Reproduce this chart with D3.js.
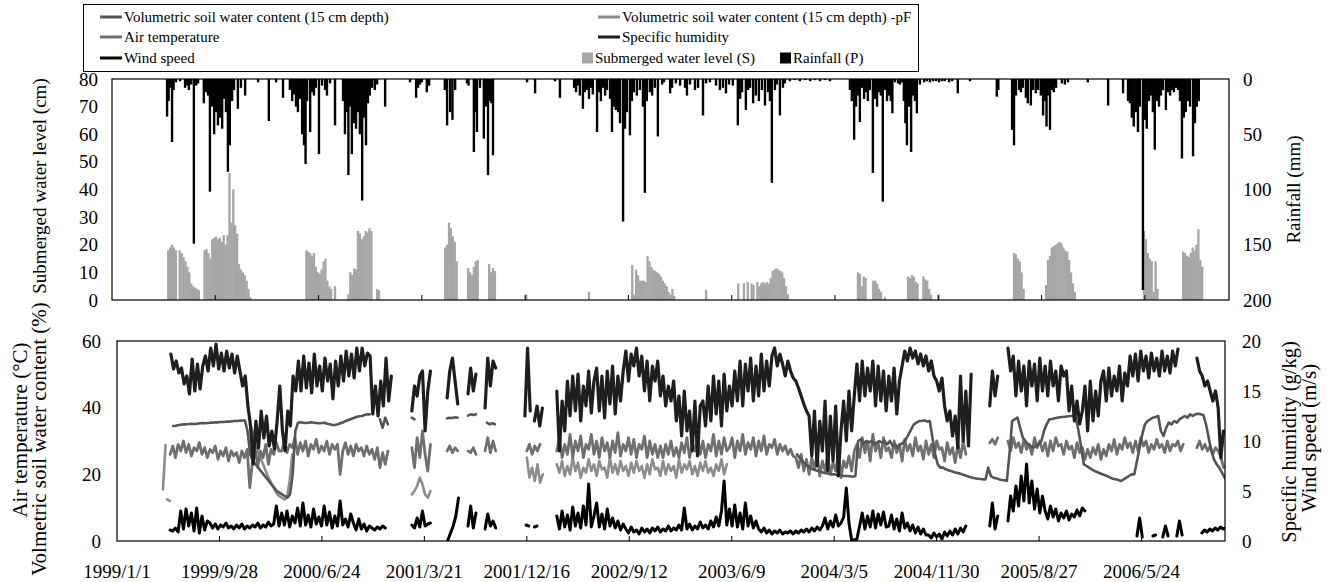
<!DOCTYPE html>
<html>
<head>
<meta charset="utf-8">
<script src="https://cdn.jsdelivr.net/npm/d3@7"></script>
<style>
  body { margin: 0; background: #fff; }
  svg text { font-family: "Liberation Serif", "Times New Roman", "DejaVu Serif", serif; fill: #000; }
</style>
</head>
<body>
<svg id="chart" width="1331" height="582" font-family="Liberation Serif, Times New Roman, serif"></svg>
<script>
// ---------------------------------------------------------------
// Data. Days are counted from 1999-01-01. Line series are stored as
// gap-separated segments sampled every 7 days; submerged water level
// segments are sampled every 5 days.
// ---------------------------------------------------------------
const LINE_STEP = 7;
const SUB_STEP = 5;
const LAST_DAY = 2920;

const dateTicks = ["1999/1/1", "1999/9/28", "2000/6/24", "2001/3/21", "2001/12/16",
  "2002/9/12", "2003/6/9", "2004/3/5", "2004/11/30", "2005/8/27", "2006/5/24"];
const subTicks = [0, 10, 20, 30, 40, 50, 60, 70, 80];
const rainTicks = [0, 50, 100, 150, 200];
const leftTicks = [0, 20, 40, 60];
const rightTicks = [0, 5, 10, 15, 20];

// Rainfall (P), mm: [day, mm]
const rainfall = [
  [144,34],[148,20],[152,8],[157,57],[161,10],[167,3],[178,2],[191,8],[196,6],[201,10],[207,5],[214,149],[220,6],[225,4],
  [240,22],[246,12],[251,15],[256,102],[261,25],[267,50],[272,30],[277,42],[282,35],[288,45],[293,18],[298,30],[303,84],[308,60],[314,20],[319,10],[329,27],[337,8],[348,15],[382,3],[410,38],[429,3],[447,17],
  [465,10],[471,20],[476,14],[481,25],[486,30],[491,18],[497,50],[502,60],[506,77],[510,20],[518,48],[523,12],[528,15],[533,8],[541,68],[549,6],[557,10],[562,15],[570,4],[583,42],
  [604,20],[609,50],[614,30],[618,87],[622,25],[627,68],[633,40],[638,45],[643,30],[648,50],[654,110],[659,35],[664,60],[669,22],[674,15],[680,8],[687,10],[693,5],[714,25],
  [779,3],[795,17],[800,8],[805,5],[810,3],[823,12],[829,6],[870,10],[876,42],[884,30],[890,37],[897,10],
  [928,4],[932,6],[946,66],[951,30],[954,48],[962,8],[972,54],[978,25],[983,87],[988,20],[992,22],[996,69],
  [1085,3],[1106,13],[1158,2],[1171,17],
  [1208,8],[1213,12],[1218,6],[1223,15],[1231,27],[1236,12],[1242,10],[1247,18],[1252,8],[1257,14],[1268,48],[1273,12],[1278,20],[1283,8],[1289,15],[1294,10],[1302,18],[1307,48],[1312,25],[1317,28],[1323,30],[1328,40],[1336,129],[1341,45],[1346,30],[1354,51],[1359,20],[1364,12],[1372,15],[1380,10],[1388,25],[1393,103],[1398,20],[1406,12],[1412,15],[1419,8],[1427,52],[1438,5],[1443,3],[1459,13],[1464,8],[1474,4],[1485,6],[1498,8],[1503,15],[1511,5],[1524,10],[1532,8],[1545,33],[1553,4],[1563,3],
  [1579,6],[1589,10],[1597,8],[1605,13],[1613,5],[1623,6],[1636,42],[1642,18],[1647,12],[1657,28],[1663,10],[1668,8],[1676,22],[1683,15],[1691,20],[1699,10],[1707,24],[1715,12],[1720,20],[1725,94],[1733,10],[1738,5],[1746,33],[1754,8],[1759,4],[1772,2],[1785,1],[1798,2],[1812,1],[1825,2],[1838,1],[1851,2],[1864,1],[1877,2],
  [1929,10],[1934,20],[1940,55],[1945,25],[1950,15],[1955,39],[1961,8],[1966,18],[1971,12],[1976,20],[1981,10],[1989,85],[1995,18],[2000,25],[2005,12],[2010,15],[2015,111],[2021,10],[2026,20],[2031,15],[2036,20],[2040,31],
  [2047,3],[2055,4],[2060,5],[2065,3],[2070,20],[2074,40],[2078,60],[2083,25],[2089,66],[2094,15],[2099,20],[2104,31],[2112,5],[2123,3],[2130,2],[2138,3],[2146,2],[2154,2],[2162,3],[2170,2],[2177,2],[2188,3],[2196,2],[2211,13],[2243,2],
  [2313,16],[2317,10],[2353,46],[2358,60],[2363,15],[2371,10],[2376,12],[2381,8],[2389,17],[2394,22],[2402,24],[2408,10],[2415,13],[2421,10],[2428,15],[2434,33],[2439,20],[2443,43],[2447,15],[2452,46],[2457,10],[2462,12],[2468,8],[2483,4],[2491,5],[2499,3],[2551,3],[2604,24],
  [2643,13],[2656,20],[2661,22],[2666,35],[2671,43],[2677,30],[2682,48],[2687,25],[2695,191],[2700,37],[2705,45],[2711,20],[2716,15],[2721,30],[2726,64],[2732,20],[2737,25],[2742,15],[2747,10],[2755,28],[2760,12],[2766,15],[2771,10],[2776,12],[2781,8],[2787,10],[2792,20],[2797,72],[2802,35],[2807,30],[2813,20],[2818,25],[2826,70],[2831,40],[2836,25],[2841,20]
];

// Submerged water level (S), cm
const submergedLevel = [
  {start: 144, values: [18,19,20,19,18,0,18,17,15.5,14,12,10,6,5,4.5,4,3.5,0,0,18,18.5,17,15,22,22.5,23,22,22.5,21,23.5,20,23.5,46,28,40,27,24,13,11,10,9,7,4,1]},
  {start: 505, values: [18,17.5,17,16,17,12,10,9.5,11,14,15,7,5,4,0,5,0,0,0,0,0,0,2,10,9,11.5,11,25,24,22,23,25,24.5,26,25,0,0,4,3.5]},
  {start: 868, values: [19,20,28,26,23,21,14,0,0,0,0,0,11.5,10,9,12,14,14.5,0,0,0,0,0,13,10,11.5,10.5]},
  {start: 1080, values: [2]},
  {start: 1244, values: [3]},
  {start: 1357, values: [12.7,2,11,9,7,7,7,6.5,16,14,12,11,10.5,10,9.5,8.5,7,6,5,3,2,4,1.5]},
  {start: 1550, values: [3.6]},
  {start: 1634, values: [6,0,0,6,0,6.5,0,6,5.5,0,6.5,5,6,6.5,6,6.5,6,8,10.5,11,11.5,11,10.5,10,8,5,2]},
  {start: 1947, values: [10,9.5,5,8.5,8,0,0,0,7,7,6,4,3,0,1]},
  {start: 2078, values: [8.5,8,9,8.5,6.6,6,0,0,8.5,7.5,7,4,2,0,0,0,2]},
  {start: 2355, values: [17,16.5,15,14,10,4]},
  {start: 2439, values: [5.4,14.5,16,19,19.5,20,20.5,21,20.5,19,18,17.5,14.5,10,6,3]},
  {start: 2695, values: [25,22,17,15,14,3,14,4]},
  {start: 2797, values: [17.5,17,16,15.5,17,19,18,20,25.6,14.5,12]}
];

// Volumetric soil water content (15 cm depth), %
const soilWater = [
  {start: 148, values: [34.5,34.6,34.8,34.9,35,35,35.1,35.2,35.1,35.2,35.3,35.4,35.3,35.4,35.5,35.5,35.6,35.6,35.7,35.7,35.8,35.8,35.9,36,36,36.1,36.1,36.2,
    33,26,24,23,22,21,20,19,18,17,16,15,14.5,14,13.5,13,14,20,
    33,35.5,35.6,35.5,35.4,35.5,35.6,35.5,35.4,35.3,35.4,35.5,35.2,35,34.8,
    34.8,35,35.3,35.6,36,36.3,36.6,36.9,37.2,37.4,37.5,37.8,38,38]},
  {start: 693, values: [36.5,34,37,35]},
  {start: 777, values: [37,36.5]},
  {start: 870, values: [36.8,37,36.9,37.1,37]},
  {start: 925, values: [37.6,38,37.8,38]},
  {start: 975, values: [35.5,35,35.3,35]},
  {start: 1792, values: [26,25,24,23.2,22.5,22,21.5,21.2,21,20.8,20.5,20.3,20.2,20,20,19.8,19.7,19.6,19.5,19.5,19.4,19.3,19.5,
    30,30.5,29,30,29.5,30,29,29.5,30,
    29.5,30,29,30,28.5,29,28,29,
    29.5,30.5,32,33.5,35,35.5,36,36,36.2,35.8,36,
    31,26,23,22,22,21.5,21.2,21,20.7,20.5,20.3,20,19.8,19.5,
    19.2,19,18.8,18.7,18.6,18.5,18.5,22,19.5,19,18.8,18.5,18.3,18.2,18,
    26,36,36.5,37,34,31,30,29,28.5,28,28.5,29,30,33,35,
    36.5,36.6,36.8,37,37.1,37.2,37.3,37.4,37.5,37.5,37,33,28,23,
    22.5,22,21.5,21,20.7,20.3,20,19.7,19.4,19,18.7,18.5,18.3,18,
    18.5,19,19.5,20,20,24,28,32,35,36,36.5,37,37.2,37.5,
    33,31.5,34,35.5,35,36,35.5,36.5,37,37.5,37,38,37.5,38,38.2,38,37.8,
    35,31,27,24.5,23,22,20.5,19,18,17.5]}
];

// Volumetric soil water content (15 cm depth) derived from pF, %
const soilWaterPF = [
  {start: 121, values: [15.5,28.8]},
  {start: 132, values: [12.5,12]},
  {start: 350, values: [35,33,30,27,25,23,21,19,17.5,16,14.5,13.5,13,12.5,13,18,26]},
  {start: 777, values: [14,15,16.5,19,17,14,13,15]},
  {start: 1080, values: [25,19,22,18,23,17.5,20]},
  {start: 1159, values: [23,20.5,24,19.5,22.5,20,25,21,23.5,19,22,20.5,24.5,21,23,19.5,24,21.5,22,19,
    25,20.5,23,20,24,21,22.5,19.5,23.5,20.5,24,21,22.5,19,23,20,24.5,21.5,22,19.5,
    24,20,23,21,22.5,19,24.5,20.5,23,21.5,24,20,22.5,19.5,23.5,21,24,20.5,22,19.5,23,21,24.5,20,23]}
];

// Air temperature, °C
const airTemperature = [
  {start: 140, values: [26,28.5,25,29,27,30,26.5,29,25.5,28,27,29.5,26,28,25,27.5,26.5,28.5,24.5,27,25.5,28,24,27,25.5,26.5,23.5,27,25,27.5,
    16,24,28,22.5,27,25,29,23,27.5,26,29.5,27,
    27,30,26.5,29,28,31,26,29.5,27,30,25.5,29,27.5,30.5,26.5,28.5,27,30,26,29,27.5,29,20,27,29.5,26,28.5,25.5,29,27,28,25.5,28.5,26,27.5,24.5,28,22,26.5,23,27]},
  {start: 777, values: [28,22,31,25,33,26,21,29]},
  {start: 870, values: [27,28.5,26.5,28,27]},
  {start: 925, values: [27,26.5,28,26]},
  {start: 970, values: [27,31,26.5,30,27]},
  {start: 1080, values: [27,29,26,28.5,27,29]},
  {start: 1159, values: [27,31,25,29,26,32,25,30,27,31.5,25,29,27.5,32,26,30,25,31,27,29.5,25,30,26.5,32.5,25.5,29,27,31,26,30.5,
    25,29,27.5,31.5,25,30,26,29,25,28.5,25,29,26,30,25.5,28,25,29.5,26.5,31,25,29,27,31.5,26,30,25,29,27,32,25.5,30,26,31,27,
    28,31,25,30,27,32,26,29.5,27.5,31,25.5,30,27,31.5,26,29,28,30.5,26,29,27,28.5,26,27.5,25.5,
    25,22,26,21,24.5,20,25,21.5,26,19.5,24,21,25.5,20,23.5,21,26,19,24,22,25.5,21,27,
    29,25,31,26.5,30,24,32,27,29.5,25,31,27,
    28,25,30,26.5,29,24,30.5,27,29,25.5,31,27,28.5,24.5,30,26,29,25,30,27.5,28,24,29.5,26,28,23.5,29,25,30,26]},
  {start: 2300, values: [29.5,30.5,29,31]},
  {start: 2348, values: [30,27,31,28,29.5,26.5,30.5,27.5,29,26,31,28,30,27,29.5,25.5,30,27,31,28.5,29,26,30,27.5,28.5,25,29.5,26.5,28,24.5,
    27.5,25,28,26,29,24.5,27.5,25.5,29,27,30.5,26,29,27.5,31,28,29.5,26.5,30,27,31,28.5,30,26.5,29,27.5,30.5,28,29,26.5,30,27,29,28.5,30,27,29]},
  {start: 2846, values: [28,30,27.5,29,27,28.5,26,28,27,25.5,22]}
];

// Specific humidity, g/kg
const specificHumidity = [
  {start: 142, values: [18.7,17.2,18,16.8,17.3,15.7,16.5,14.7,18.2,15,17.7,15.2,17.5,
    18.5,17,19.3,17.5,19.7,17.2,18.8,17,19,17.3,18.7,16.8,18.5,
    17,15.5,16.5,13.5,11.5,7.7,
    12,9.3,13,10.3,12.5,9.5,11,9.2,12,15.5,11,9,13,11.5,16.5,15,
    18,15,18.5,15.3,17.8,14.8,18.7,15.5,17.5,15,18.3,16,17.7,14.2,18,15.5,18.5,16,19,16.5,18.7,16.3,19.3,17,19.3,17.5,18.8,18.5,
    12.7,15.5,12.5,16,13.5,18.3,14,16.5]},
  {start: 777, values: [13,15.5,14.5,16.5,17,11,15,17]},
  {start: 870, values: [14.3,17,18.3,16,13.7]},
  {start: 925, values: [14.7,17.3,15,16.7]},
  {start: 970, values: [13.3,18.3,15.5,18,17.3]},
  {start: 1075, values: [12.5,19.3,13]},
  {start: 1100, values: [12,13.5,11.5,13.3]},
  {start: 1159, values: [15,9,14,11,
    16,12.5,16.5,13,16.7,12,15.5,13.5,17,12.8,16,
    17.3,13,16.5,12.3,17,13.7,17.5,12.7,16.5,14,
    17,19,16,18.7,17.5,19.3,16.5,
    18.5,15,18,14,17.5,16,18,14.5,
    16.5,13.5,15.5,14,16,
    12,14.5,10.5,15,11,13,9,14,8.5,13.5,
    14,11.5,15.5,12,16.5,12.7,16,11.5,16.7,13,15.5,13.5,
    17,14,18,13.5,17.7,15,18.3,14,17.5,14.5,18.7,15,18,15.5,18.5,
    19.3,17.5,18.7,17.7,16.5,18,17,16.3,
    16,15.3,14.5,13.7,13,
    12.5,8.5,13,7.5,12,9,14,7,12.5,8,13.5,6.5,11,
    14,10,15,11,14.5,
    17.7,14,18,14.5,17.3,15,18,13.5,17.5,14,
    17,13,16.5,14,17.3,12.7,16,
    17.5,19,18,19.3,18.3,19,17.7,18.7,17.5,18.5,17,18,16.5,
    16,15,16.3,13.5,12,13,10.5,12.5,9.3,
    16.5,10,15,9.5,16.7]},
  {start: 2300, values: [13.5,17,14.5,16.5]},
  {start: 2348, values: [19.3,17,18.5,14.5,18,15,17.5,13.5,18,15.5,17.7,14,18.3,15,17.5,14.5,18,15.5,17,14,17.5,16.5,
    17,13,15.5,12,14,11.7,13,
    15.5,11,16,12,15,12.5,16,
    17,14,17.3,14.5,16.5,15,17.5,14,16.8,15.5,
    18.5,16.5,18.7,16,19,17,18.5,16.3,18.8,17,18.3,16.5,19,17,18.5,16.8,19,17.5,19.2]},
  {start: 2846, values: [18.3,17,16.5,15.5,16,15,14,15,13.3,8.3,11]}
];

// Wind speed, m/s
const windSpeed = [
  {start: 140, values: [1.1,1.0,1.3,0.9,3.0,1.2,3.2,1.5,2.8,1.0,3.3,0.8,2.5,1.1,2.0,
    1.8,1.3,1.7,1.2,1.6,1.4,1.8,1.3,1.5,1.2,1.6,1.3,1.7,1.2,1.5,1.3,1.6,1.4,1.8,1.3,1.6,1.4,1.9,1.5,1.7,
    3.5,1.5,2.8,1.6,3.0,1.4,2.5,1.8,3.3,1.5,3.8,1.6,2.6,1.4,3.2,1.7,2.4,1.5,3.5,1.6,2.9,1.3,2.5,1.5,4.0,1.6,2.2,1.4,2.7,
    1.8,1.1,2.2,1.2,1.7,1.0,1.5,1.3,1.1,1.4,1.2,1.5,1.3]},
  {start: 777, values: [1.6,1.3,2.3,1.4,3.0,1.5,1.7,1.8]},
  {start: 872, values: [0.1,0.8,1.5,2.5,4.3]},
  {start: 925, values: [1.5,3.5,1.3,2.8]},
  {start: 970, values: [1.2,2.7,1.5,2.0,1.3]},
  {start: 1078, values: [1.6,1.5]},
  {start: 1100, values: [1.4,1.5]},
  {start: 1159, values: [2.5,1.2,3.0,1.4,2.6,1.1,3.4,1.5,2.8,1.3,3.5,1.6,5.7,1.4,2.5,
    3.8,1.4,2.7,1.2,3.2,1.5,2.3,1.3,2.0,1.1,1.7,
    1.2,0.8,1.4,0.9,1.1,0.7,1.3,0.9,1.2,0.8,1.3,1.0,1.4,0.9,1.2,1.0,1.5,1.0,1.3,1.1,1.6,1.1,3.3,1.2,1.7,1.1,1.5,1.2,1.9,1.3,1.6,1.2,2.0,1.4,2.4,1.5,
    3.0,6.0,1.6,3.2,
    1.5,3.6,1.4,2.8,1.2,3.8,1.5,2.5,1.3,2.0,
    1.2,0.9,1.3,0.8,1.1,0.7,1.0,0.8,1.1,0.7,0.9,0.8,1.0,0.7,1.0,0.8,1.1,0.9,1.2,0.9,1.3,1.0,1.4,1.1,
    1.5,2.3,1.2,2.0,1.4,2.6,1.5,1.8,2.4,5.3,1.8,
    0.1,0.1,0.2,
    1.5,2.8,1.2,2.5,1.4,3.0,1.3,2.7,1.6,2.9,1.4,
    1.5,2.6,1.2,2.2,1.0,2.8,1.3,1.8,1.0,1.6,0.8,1.4,0.7,1.2,0.6,
    0.6,0.3,0.8,0.4,0.7,0.2,0.9,0.5,1.0,0.6,1.2,0.7,1.3,0.9,1.5]},
  {start: 2300, values: [1.5,3.8,1.2,2.5]},
  {start: 2348, values: [2.0,4.5,3.0,5.5,3.5,6.5,4.0,7.7,3.8,6.0,3.2,5.2,2.8,4.5,
    3.0,2.2,3.5,2.4,3.2,2.0,2.8,2.3,3.0,2.1,2.7,2.4,3.1,2.5,3.3,3.0]},
  {start: 2688, values: [0.5,2.3,0.4]},
  {start: 2730, values: [0.5,0.6]},
  {start: 2756, values: [0.4,1.5,0.5]},
  {start: 2793, values: [0.5,2.0,0.6]},
  {start: 2859, values: [0.8,1.1,0.9,1.2,1.0,1.3,1.1,1.4,1.2,1.3]}
];

// ---------------------------------------------------------------
// Layout and scales
// ---------------------------------------------------------------
const SERIF = "Liberation Serif, Times New Roman, serif";
const svg = d3.select("#chart");
const origin = new Date(1999, 0, 1);
const dayToDate = d => new Date(1999, 0, 1 + d);
const parseTick = d3.timeParse("%Y/%m/%d");
const tickDates = dateTicks.map(parseTick);

const upper = {left: 112, right: 1229, top: 79, bottom: 300};
const lower = {left: 117, right: 1225, top: 341, bottom: 541};

const xUpper = d3.scaleTime().domain([origin, dayToDate(LAST_DAY)]).range([upper.left, upper.right]);
const xLower = d3.scaleTime().domain([origin, dayToDate(LAST_DAY)]).range([lower.left, lower.right]);

const ySub = d3.scaleLinear().domain([0, 80]).range([upper.bottom, upper.top]);
const yRain = d3.scaleLinear().domain([0, 200]).range([upper.top, upper.bottom]);
const yLeft = d3.scaleLinear().domain([0, 60]).range([lower.bottom, lower.top]);
const yRight = d3.scaleLinear().domain([0, 20]).range([lower.bottom, lower.top]);

const FONT = 19;

function styleAxis(a) {
  a.attr("font-family", SERIF).attr("font-size", FONT);
  a.select(".domain").remove();
  a.selectAll("text").attr("font-size", FONT).attr("font-family", SERIF).attr("fill", "#000");
}

function title(g, x, y, text, size) {
  g.append("text")
    .attr("transform", `translate(${x},${y}) rotate(-90)`)
    .attr("text-anchor", "middle").attr("font-size", size || FONT).attr("font-family", SERIF)
    .text(text);
}

// ---------------------------------------------------------------
// Upper panel: submerged water level and rainfall
// ---------------------------------------------------------------
const gUp = svg.append("g");
gUp.append("clipPath").attr("id", "clipUp").append("rect")
  .attr("x", upper.left).attr("y", upper.top)
  .attr("width", upper.right - upper.left).attr("height", upper.bottom - upper.top);

const subBars = submergedLevel.flatMap(s => s.values.map((v, i) => ({day: s.start + i * SUB_STEP, v})));
gUp.append("g").attr("clip-path", "url(#clipUp)")
  .selectAll("rect").data(subBars).join("rect")
  .attr("x", d => xUpper(dayToDate(d.day)))
  .attr("width", d => xUpper(dayToDate(d.day + SUB_STEP)) - xUpper(dayToDate(d.day)) + 0.4)
  .attr("y", d => ySub(d.v))
  .attr("height", d => ySub(0) - ySub(d.v))
  .attr("fill", "#a6a6a6");

gUp.append("g").attr("clip-path", "url(#clipUp)")
  .selectAll("rect").data(rainfall).join("rect")
  .attr("x", d => xUpper(dayToDate(d[0])) - 1.2)
  .attr("width", 2.4)
  .attr("y", yRain(0))
  .attr("height", d => yRain(d[1]) - yRain(0))
  .attr("fill", "#000");

gUp.append("rect")
  .attr("x", upper.left).attr("y", upper.top)
  .attr("width", upper.right - upper.left).attr("height", upper.bottom - upper.top)
  .attr("fill", "none").attr("stroke", "#000").attr("stroke-width", 1.2);

gUp.append("g").selectAll("line").data(tickDates.slice(1)).join("line")
  .attr("x1", d => xUpper(d)).attr("x2", d => xUpper(d))
  .attr("y1", upper.bottom).attr("y2", upper.bottom - 5)
  .attr("stroke", "#000").attr("stroke-width", 1);

styleAxis(gUp.append("g").attr("transform", `translate(${upper.left},0)`)
  .call(d3.axisLeft(ySub).tickValues(subTicks).tickSize(0).tickPadding(14)));
styleAxis(gUp.append("g").attr("transform", `translate(${upper.right},0)`)
  .call(d3.axisRight(yRain).tickValues(rainTicks).tickSize(0).tickPadding(14)));

title(gUp, 46, 186, "Submerged water level (cm)");
title(gUp, 1300, (upper.top + upper.bottom) / 2, "Rainfall (mm)");

// ---------------------------------------------------------------
// Lower panel: soil water, temperature, humidity, wind
// ---------------------------------------------------------------
const gLo = svg.append("g");
gLo.append("clipPath").attr("id", "clipLo").append("rect")
  .attr("x", lower.left).attr("y", lower.top - 2)
  .attr("width", lower.right - lower.left).attr("height", lower.bottom - lower.top + 2);

function drawSeries(segments, yScale, color, width) {
  const line = d3.line()
    .x(d => xLower(dayToDate(d.day)))
    .y(d => yScale(d.v));
  gLo.append("g").attr("clip-path", "url(#clipLo)")
    .selectAll("path")
    .data(segments.map(s => s.values.map((v, i) => ({day: s.start + i * LINE_STEP, v}))))
    .join("path")
    .attr("d", line)
    .attr("fill", "none")
    .attr("stroke", color)
    .attr("stroke-width", width)
    .attr("stroke-linejoin", "round")
    .attr("stroke-linecap", "round");
}

const colors = {
  soil: "#555555",
  soilPF: "#8c8c8c",
  temp: "#6f6f6f",
  humidity: "#1e1e1e",
  wind: "#000000",
  submerged: "#a6a6a6",
  rain: "#000000"
};

drawSeries(soilWaterPF, yLeft, colors.soilPF, 2.6);
drawSeries(airTemperature, yLeft, colors.temp, 2.8);
drawSeries(soilWater, yLeft, colors.soil, 2.6);
drawSeries(specificHumidity, yRight, colors.humidity, 3.2);
drawSeries(windSpeed, yRight, colors.wind, 3);

gLo.append("rect")
  .attr("x", lower.left).attr("y", lower.top)
  .attr("width", lower.right - lower.left).attr("height", lower.bottom - lower.top)
  .attr("fill", "none").attr("stroke", "#000").attr("stroke-width", 1.2);

gLo.append("g").selectAll("line").data(tickDates.slice(1)).join("line")
  .attr("x1", d => xLower(d)).attr("x2", d => xLower(d))
  .attr("y1", lower.bottom).attr("y2", lower.bottom - 5)
  .attr("stroke", "#000").attr("stroke-width", 1);

gLo.append("g").selectAll("text").data(tickDates).join("text")
  .attr("x", d => xLower(d)).attr("y", 578)
  .attr("text-anchor", "middle").attr("font-size", FONT).attr("font-family", SERIF)
  .text((d, i) => dateTicks[i]);

styleAxis(gLo.append("g").attr("transform", `translate(${lower.left},0)`)
  .call(d3.axisLeft(yLeft).tickValues(leftTicks).tickSize(0).tickPadding(16)));
styleAxis(gLo.append("g").attr("transform", `translate(${lower.right},0)`)
  .call(d3.axisRight(yRight).tickValues(rightTicks).tickSize(0).tickPadding(17)));

title(gLo, 27, 430, "Air temperature (°C)", 21);
title(gLo, 46, 439, "Volmetric soil water content (%)", 21);
title(gLo, 1296, 442, "Specific humidity (g/kg)", 20.5);
title(gLo, 1316, 438, "Wind speed (m/s)", 21);

// ---------------------------------------------------------------
// Legend
// ---------------------------------------------------------------
const gLeg = svg.append("g");
gLeg.append("rect").attr("x", 83.5).attr("y", 4.5).attr("width", 835).attr("height", 67)
  .attr("fill", "#fff").attr("stroke", "#000").attr("stroke-width", 1);

const LEG_FONT = 15;
const lineItems = [
  {label: "Volumetric soil water content (15 cm depth)", color: colors.soil, x: 100, y: 17},
  {label: "Volumetric soil water content (15 cm depth) -pF", color: colors.soilPF, x: 598, y: 17},
  {label: "Air temperature", color: colors.temp, x: 100, y: 37},
  {label: "Specific humidity", color: colors.humidity, x: 598, y: 37},
  {label: "Wind speed", color: colors.wind, x: 100, y: 58}
];
lineItems.forEach(it => {
  gLeg.append("line").attr("x1", it.x).attr("x2", it.x + 22).attr("y1", it.y).attr("y2", it.y)
    .attr("stroke", it.color).attr("stroke-width", 3);
  gLeg.append("text").attr("x", it.x + 24).attr("y", it.y + 5)
    .attr("font-size", LEG_FONT).attr("font-family", SERIF).text(it.label);
});
const boxItems = [
  {label: "Submerged water level (S)", color: colors.submerged, x: 582, y: 58},
  {label: "Rainfall (P)", color: colors.rain, x: 780, y: 58}
];
boxItems.forEach(it => {
  gLeg.append("rect").attr("x", it.x).attr("y", it.y - 5.5).attr("width", 11).attr("height", 11).attr("fill", it.color);
  gLeg.append("text").attr("x", it.x + 13).attr("y", it.y + 5)
    .attr("font-size", LEG_FONT).attr("font-family", SERIF).text(it.label);
});
</script>
</body>
</html>
